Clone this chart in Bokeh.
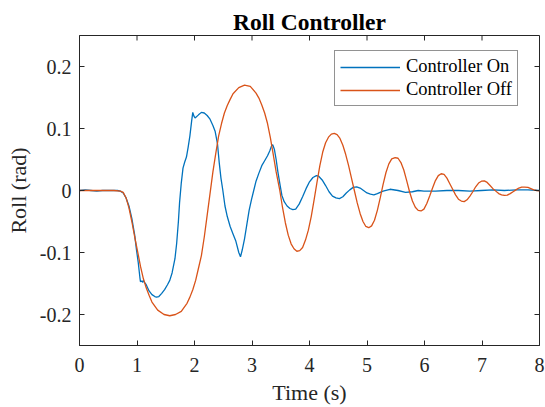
import math
from bokeh.plotting import figure
from bokeh.models import FixedTicker, Range1d, Legend, LegendItem
from bokeh.embed import file_html
from bokeh.resources import INLINE

# ---- data ----
t_off = [0.0, 0.3, 0.6, 0.71, 0.76, 0.81, 0.86, 0.91, 0.96, 1.01, 1.06, 1.11, 1.16, 1.21, 1.26, 1.36, 1.47,
         1.57, 1.67, 1.77, 1.87, 1.92, 1.97, 2.02, 2.07, 2.12, 2.17, 2.22, 2.27, 2.32, 2.37, 2.42, 2.47, 2.52,
         2.57, 2.62, 2.67, 2.77, 2.87, 2.97, 3.07, 3.12, 3.17, 3.22, 3.27, 3.32, 3.37, 3.42, 3.48, 3.53,
         3.58, 3.63, 3.68, 3.73, 3.78, 3.83, 3.88, 3.93, 3.98, 4.03, 4.08, 4.13, 4.18, 4.23, 4.28, 4.33,
         4.38, 4.43, 4.48, 4.53, 4.58, 4.63, 4.68, 4.73, 4.78, 4.83, 4.88, 4.93, 4.98, 5.03, 5.08, 5.13,
         5.18, 5.23, 5.28, 5.33, 5.38, 5.43, 5.49, 5.54, 5.59, 5.64, 5.69, 5.74, 5.79, 5.84, 5.89, 5.94,
         5.99, 6.04, 6.09, 6.14, 6.19, 6.24, 6.29, 6.34, 6.39, 6.44, 6.49, 6.54, 6.59, 6.64, 6.69, 6.74,
         6.79, 6.84, 6.89, 6.94, 6.99, 7.04, 7.09, 7.14, 7.19, 7.24, 7.29, 7.34, 7.39, 7.44, 7.49, 7.54,
         7.59, 7.64, 7.69, 7.74, 7.8, 7.85, 7.9, 7.95, 8.0]
roll_off = [0.0, 0.0, 0.0, -0.001, -0.003, -0.012, -0.028, -0.05, -0.075, -0.098, -0.122, -0.142, -0.157,
            -0.169, -0.18, -0.193, -0.2, -0.202, -0.2, -0.195, -0.182, -0.172, -0.16, -0.145, -0.125,
            -0.105, -0.075, -0.04, -0.005, 0.03, 0.06, 0.088, 0.108, 0.125, 0.137, 0.147, 0.156, 0.166,
            0.170, 0.168, 0.157, 0.149, 0.138, 0.125, 0.108, 0.085, 0.058, 0.03, 0.002, -0.027, -0.052,
            -0.072, -0.086, -0.094, -0.098, -0.097, -0.092, -0.08, -0.064, -0.042, -0.015, 0.013, 0.04,
            0.062, 0.077, 0.086, 0.091, 0.092, 0.09, 0.084, 0.073, 0.058, 0.04, 0.02, 0.0, -0.02, -0.037,
            -0.05, -0.058, -0.060, -0.057, -0.048, -0.032, -0.012, 0.01, 0.029, 0.043, 0.051, 0.053, 0.052,
            0.045, 0.033, 0.016, -0.002, -0.017, -0.027, -0.032, -0.033, -0.03, -0.021, -0.009, 0.004,
            0.016, 0.024, 0.027, 0.026, 0.02, 0.011, 0.002, -0.007, -0.014, -0.017, -0.018, -0.015, -0.009,
            -0.002, 0.006, 0.012, 0.015, 0.0155, 0.013, 0.008, 0.003, -0.001, -0.005, -0.007, -0.008,
            -0.0075, -0.005, -0.002, 0.001, 0.004, 0.0053, 0.0055, 0.005, 0.003, 0.001, 0.0, -0.0005]

t_on = [0.0, 0.1, 0.2, 0.3, 0.4, 0.5, 0.6, 0.66, 0.71, 0.76, 0.81, 0.86, 0.91, 0.96, 0.99, 1.02, 1.05, 1.06,
        1.08, 1.10, 1.11, 1.13, 1.16, 1.21, 1.26, 1.31, 1.34, 1.38, 1.43, 1.48, 1.53, 1.57, 1.61, 1.66,
        1.69, 1.72, 1.74, 1.77, 1.8, 1.83, 1.86, 1.89, 1.92, 1.95, 1.97, 1.99, 2.01, 2.07, 2.12, 2.17,
        2.22, 2.27, 2.32, 2.36, 2.40, 2.43, 2.46, 2.49, 2.53, 2.57, 2.62, 2.67, 2.72, 2.77, 2.80, 2.83,
        2.87, 2.91, 2.95, 2.99, 3.03, 3.07, 3.12, 3.17, 3.22, 3.27, 3.31, 3.34, 3.36, 3.39, 3.42, 3.45,
        3.49, 3.52, 3.56, 3.61, 3.66, 3.71, 3.76, 3.82, 3.88, 3.94, 4.0, 4.06, 4.12, 4.16, 4.22, 4.28,
        4.34, 4.4, 4.46, 4.52, 4.58, 4.64, 4.7, 4.76, 4.82, 4.88, 4.94, 5.0, 5.06, 5.12, 5.18, 5.28, 5.4,
        5.54, 5.67, 5.79, 5.89, 5.99, 6.19, 6.39, 6.59, 6.79, 6.99, 7.19, 7.39, 7.6, 7.8, 8.0]
roll_on = [0.0, 0.001, 0.0, -0.001, 0.0, 0.0, 0.0, 0.0, -0.001, -0.004, -0.012, -0.025, -0.045, -0.072,
           -0.095, -0.115, -0.14, -0.147, -0.146, -0.148, -0.145, -0.148, -0.152, -0.162, -0.168, -0.171,
           -0.172, -0.171, -0.166, -0.16, -0.152, -0.145, -0.133, -0.11, -0.085, -0.05, -0.02, 0.012,
           0.036, 0.046, 0.054, 0.07, 0.088, 0.112, 0.126, 0.12, 0.117, 0.122, 0.126, 0.125, 0.121, 0.115,
           0.105, 0.095, 0.075, 0.045, 0.02, 0.002, -0.025, -0.042, -0.058, -0.07, -0.082, -0.1, -0.107,
           -0.096, -0.078, -0.055, -0.032, -0.015, 0.0, 0.015, 0.028, 0.04, 0.048, 0.056, 0.064, 0.072,
           0.074, 0.066, 0.05, 0.03, 0.008, -0.008, -0.018, -0.025, -0.029, -0.031, -0.03, -0.022, -0.01,
           0.003, 0.014, 0.021, 0.024, 0.023, 0.017, 0.008, -0.002, -0.009, -0.012, -0.013, -0.01, -0.004,
           0.001, 0.005, 0.006, 0.004, 0.0, -0.004, -0.006, -0.007, -0.005, -0.001, 0.002, 0.0, -0.003,
           -0.002, 0.0, -0.001, -0.001, 0.0, 0.0, -0.001, 0.0, 0.001, 0.0, 0.001, 0.001, 0.0]

x_ticks = [0, 1, 2, 3, 4, 5, 6, 7, 8]
y_ticks = [-0.2, -0.1, 0, 0.1, 0.2]
y_tick_labels = ["-0.2", "-0.1", "0", "0.1", "0.2"]
series_names = ["Controller On", "Controller Off"]
title_text = "Roll Controller"
x_label = "Time (s)"
y_label = "Roll (rad)"

# ---- styling ----
FONT = "Liberation Serif"
AX = "#262626"
BLUE = "#0072BD"
ORANGE = "#D95319"
X0, X1, Y0, Y1 = 0, 8, -0.25, 0.25

p = figure(width=545, height=407, output_backend="svg", toolbar_location=None,
           x_range=Range1d(X0, X1), y_range=Range1d(Y0, Y1),
           min_border_left=79, min_border_right=6, min_border_top=35, min_border_bottom=62)

p.title.text = title_text
p.title.align = "center"
p.title.text_font = FONT
p.title.text_font_size = "23.5px"
p.title.text_font_style = "bold"
p.title.text_color = "#000000"
p.title.offset = 0
p.title.standoff = 2

p.xgrid.visible = False
p.ygrid.visible = False
p.outline_line_color = AX
p.outline_line_width = 1
p.background_fill_color = "white"
p.border_fill_color = "white"

r_on = p.line(t_on, roll_on, line_color=BLUE, line_width=1.3)
r_off = p.line(t_off, roll_off, line_color=ORANGE, line_width=1.3)

# mirrored inward ticks on the top and right edges of the box
p.ray(x=x_ticks, y=[Y1] * len(x_ticks), length=5, length_units="screen",
      angle=-math.pi / 2, line_color=AX, line_width=1)
p.ray(x=[X1] * len(y_ticks), y=y_ticks, length=5, length_units="screen",
      angle=math.pi, line_color=AX, line_width=1)

def style_axis(ax):
    ax.axis_line_color = AX
    ax.major_tick_line_color = AX
    ax.major_tick_in = 5
    ax.major_tick_out = 0
    ax.minor_tick_line_color = None
    ax.major_label_text_font = FONT
    ax.major_label_text_color = AX
    ax.major_label_text_font_size = "20px"
    ax.axis_label_text_font = FONT
    ax.axis_label_text_color = AX
    ax.axis_label_text_font_style = "normal"
    ax.axis_label_text_font_size = "22px"

xa = p.xaxis[0]
xa.ticker = FixedTicker(ticks=x_ticks)
xa.axis_label = x_label
style_axis(xa)
xa.major_label_standoff = 12
xa.axis_label_standoff = 5

ya = p.yaxis[0]
ya.ticker = FixedTicker(ticks=y_ticks)
ya.major_label_overrides = {v: s for v, s in zip(y_ticks, y_tick_labels)}
ya.axis_label = y_label
style_axis(ya)
ya.major_label_standoff = 8
ya.axis_label_standoff = 6

legend = Legend(items=[LegendItem(label=series_names[0], renderers=[r_on]),
                       LegendItem(label=series_names[1], renderers=[r_off])],
                location=(255, 239))
legend.label_text_font = FONT
legend.label_text_font_size = "18.5px"
legend.label_text_color = "#000000"
legend.glyph_width = 60
legend.glyph_height = 20
legend.label_standoff = 6
legend.label_height = 20
legend.spacing = 2
legend.padding = 5
legend.margin = 0
legend.border_line_color = AX
legend.border_line_width = 1
legend.background_fill_alpha = 1
p.add_layout(legend)

open("out.html", "w").write(file_html(p, INLINE))
